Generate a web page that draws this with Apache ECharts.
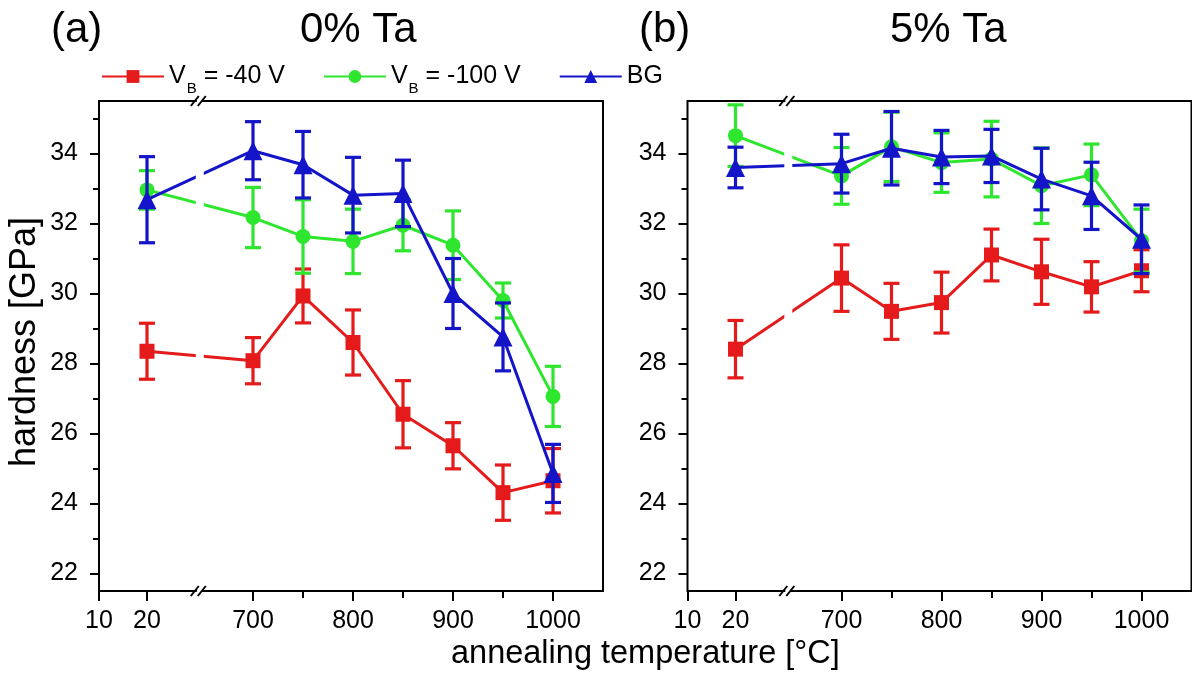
<!DOCTYPE html>
<html><head><meta charset="utf-8">
<script src="https://cdn.jsdelivr.net/npm/echarts@6/dist/echarts.min.js"></script>
<style>html,body{margin:0;padding:0;background:#fff}#c{width:1192px;height:673px}</style>
</head><body><div id="c"></div>
<script>
// ---------- data ----------
const temps = [20, 700, 750, 800, 850, 900, 950, 1000];
const seriesNames = ['V_B = -40 V', 'V_B = -100 V', 'BG'];

// panel (a) 0% Ta
const redA      = [28.35, 28.08, 29.93, 28.60, 26.55, 25.65, 24.31, 24.65];
const redAErr   = [0.80, 0.66, 0.77, 0.93, 0.96, 0.66, 0.79, 0.92];
const greenA    = [32.96, 32.17, 31.63, 31.49, 31.95, 31.38, 29.80, 27.06];
const greenAErr = [0.55, 0.86, 1.05, 0.92, 0.73, 0.98, 0.50, 0.86];
const blueA     = [32.68, 34.08, 33.68, 32.81, 32.86, 30.00, 28.76, 24.86];
const blueAErr  = [1.23, 0.83, 0.95, 1.08, 0.95, 1.00, 0.97, 0.83];

// panel (b) 5% Ta
const redB      = [28.41, 30.44, 29.49, 29.74, 31.10, 30.62, 30.19, 30.65];
const redBErr   = [0.82, 0.95, 0.80, 0.87, 0.74, 0.93, 0.72, 0.60];
const greenB    = [34.51, 33.36, 34.19, 33.74, 33.84, 33.08, 33.39, 31.51];
const greenBErr = [0.88, 0.81, 0.99, 0.85, 1.08, 1.08, 0.88, 0.90];
const blueB     = [33.60, 33.71, 34.15, 33.90, 33.93, 33.27, 32.79, 31.55];
const blueBErr  = [0.58, 0.84, 1.05, 0.76, 0.76, 0.88, 0.96, 0.98];

// axis ticks
const xTickTemps  = [10, 20, 700, 800, 900, 1000];
const xTickLabels = ['10', '20', '700', '800', '900', '1000'];
const xMinorTemps = [750, 850, 950];
const yTicks = [22, 24, 26, 28, 30, 32, 34];
const yMinor = [23, 25, 27, 29, 31, 33, 35];
const Y_MIN = 21.5, Y_MAX = 35.5;

// broken x scale: 10..31 (stretched) | 646..1050
function sx(T) { return T < 300 ? (T - 10) * 4.8 : T - 546; }
const X_MIN = sx(10), X_MAX = sx(1050);
const BREAK_V = sx(31);

const FONT = 'Liberation Sans';
const COLORS = ['#e51a1a', '#2ee62e', '#1414c8'];
const SYMBOLS = ['rect', 'circle', 'triangle'];
const SYMSIZE = [15, 15, 19];

const panels = [
  { vals: [redA, greenA, blueA], errs: [redAErr, greenAErr, blueAErr] },
  { vals: [redB, greenB, blueB], errs: [redBErr, greenBErr, blueBErr] }
];

const grids = [
  { left: 99, top: 101, width: 504, height: 490 },
  { left: 687.5, top: 101, width: 504, height: 490 }
];

const xAxes = [], yAxes = [], series = [];
grids.forEach((g, gi) => {
  g.show = true; g.borderColor = '#000'; g.borderWidth = 2; g.backgroundColor = 'transparent';
  xAxes.push({
    type: 'value', gridIndex: gi, min: X_MIN, max: X_MAX, position: 'bottom',
    axisLine: { show: false }, splitLine: { show: false },
    axisTick: { show: true, customValues: xTickTemps.map(sx), length: 10, lineStyle: { color: '#000', width: 2 } },
    axisLabel: { customValues: xTickTemps.map(sx), margin: 18, color: '#000', fontFamily: FONT, fontSize: 25,
      formatter: v => { const i = xTickTemps.map(sx).findIndex(t => Math.abs(t - v) < 0.01); return i >= 0 ? xTickLabels[i] : ''; } }
  });
  xAxes.push({
    type: 'value', gridIndex: gi, min: X_MIN, max: X_MAX, position: 'bottom',
    axisLine: { show: false }, splitLine: { show: false }, axisLabel: { show: false },
    axisTick: { show: true, customValues: xMinorTemps.map(sx), length: 7, lineStyle: { color: '#000', width: 2 } }
  });
  yAxes.push({
    type: 'value', gridIndex: gi, min: Y_MIN, max: Y_MAX, position: 'left',
    axisLine: { show: false }, splitLine: { show: false },
    axisTick: { show: true, customValues: yTicks, length: 9, lineStyle: { color: '#000', width: 2 } },
    axisLabel: { customValues: yTicks, margin: 21, color: '#000', fontFamily: FONT, fontSize: 25 }
  });
  yAxes.push({
    type: 'value', gridIndex: gi, min: Y_MIN, max: Y_MAX, position: 'left',
    axisLine: { show: false }, splitLine: { show: false }, axisLabel: { show: false },
    axisTick: { show: true, customValues: yMinor, length: 6, lineStyle: { color: '#000', width: 2 } }
  });
  const xi = gi * 2, yi = gi * 2;
  const p = panels[gi];
  for (let s = 0; s < 3; s++) {
    series.push({
      type: 'line', name: seriesNames[s], xAxisIndex: xi, yAxisIndex: yi,
      data: temps.map((t, i) => [sx(t), p.vals[s][i]]),
      symbol: SYMBOLS[s], symbolSize: SYMSIZE[s],
      lineStyle: { color: COLORS[s], width: 3 }, itemStyle: { color: COLORS[s] },
      z: 3 + s * 2, clip: false
    });
    series.push({
      type: 'custom', name: 'err' + gi + s, xAxisIndex: xi, yAxisIndex: yi,
      data: temps.map((t, i) => [sx(t), p.vals[s][i] - p.errs[s][i], p.vals[s][i] + p.errs[s][i]]),
      encode: { x: 0, y: [1, 2] }, z: 4 + s * 2, clip: false,
      renderItem: (params, api) => {
        const lo = api.coord([api.value(0), api.value(1)]);
        const hi = api.coord([api.value(0), api.value(2)]);
        const w = 8, st = { stroke: COLORS[s], lineWidth: 3.2 };
        return { type: 'group', children: [
          { type: 'line', shape: { x1: lo[0], y1: lo[1], x2: hi[0], y2: hi[1] }, style: st },
          { type: 'line', shape: { x1: lo[0] - w, y1: lo[1], x2: lo[0] + w, y2: lo[1] }, style: st },
          { type: 'line', shape: { x1: hi[0] - w, y1: hi[1], x2: hi[0] + w, y2: hi[1] }, style: st }
        ] };
      }
    });
  }
  // axis break: gap in the lines and // marks on the frame
  series.push({
    type: 'custom', name: 'break' + gi, xAxisIndex: xi, yAxisIndex: yi,
    data: [[BREAK_V]], encode: { x: 0 }, z: 20, clip: false, silent: true,
    renderItem: (params, api) => {
      const v = api.value(0);
      const t = api.coord([v, Y_MAX]), b = api.coord([v, Y_MIN]);
      const x = t[0];
      const kids = [{ type: 'rect', shape: { x: x - 4, y: t[1] + 2, width: 8, height: b[1] - t[1] - 4 }, style: { fill: '#fff' } }];
      [t[1], b[1]].forEach(y => {
        kids.push({ type: 'rect', shape: { x: x - 3, y: y - 1.5, width: 5, height: 3 }, style: { fill: '#fff' } });
        kids.push({ type: 'line', shape: { x1: x - 9, y1: y + 5, x2: x - 1, y2: y - 5 }, style: { stroke: '#000', lineWidth: 2 } });
        kids.push({ type: 'line', shape: { x1: x - 2, y1: y + 5, x2: x + 6, y2: y - 5 }, style: { stroke: '#000', lineWidth: 2 } });
      });
      return { type: 'group', children: kids };
    }
  });
});

const legendRich = {
  v: { fontFamily: FONT, fontSize: 25, color: '#000', lineHeight: 28 },
  s: { fontFamily: FONT, fontSize: 15, color: '#000', lineHeight: 15, padding: [24, 0, 0, 1] }
};
const legendFmt = {
  'V_B = -40 V': '{v|V}{s|B}{v| = -40 V}',
  'V_B = -100 V': '{v|V}{s|B}{v| = -100 V}',
  'BG': '{v|BG}'
};

const chart = echarts.init(document.getElementById('c'), null, { renderer: 'canvas' });
chart.setOption({
  animation: false,
  backgroundColor: '#fff',
  grid: grids, xAxis: xAxes, yAxis: yAxes, series: series,
  legend: {
    data: seriesNames, left: 96, top: 52, itemWidth: 62, itemHeight: 16, itemGap: 38,
    formatter: n => legendFmt[n], textStyle: { rich: legendRich, fontFamily: FONT, fontSize: 25 },
    selectedMode: false
  },
  graphic: [
    { type: 'text', left: 51, top: 9, style: { text: '(a)', font: '42px "Liberation Sans"', fill: '#000' } },
    { type: 'text', left: 300, top: 9, style: { text: '0% Ta', font: '42px "Liberation Sans"', fill: '#000' } },
    { type: 'text', left: 639, top: 9, style: { text: '(b)', font: '42px "Liberation Sans"', fill: '#000' } },
    { type: 'text', left: 890, top: 9, style: { text: '5% Ta', font: '42px "Liberation Sans"', fill: '#000' } },
    { type: 'text', left: 451, top: 638, style: { text: 'annealing temperature [°C]', font: '32.5px "Liberation Sans"', fill: '#000' } },
    { type: 'text', x: 25, y: 342, rotation: Math.PI / 2, style: { text: 'hardness [GPa]', font: '36px "Liberation Sans"', fill: '#000', textAlign: 'center', textVerticalAlign: 'middle' } }
  ]
});
</script></body></html>
